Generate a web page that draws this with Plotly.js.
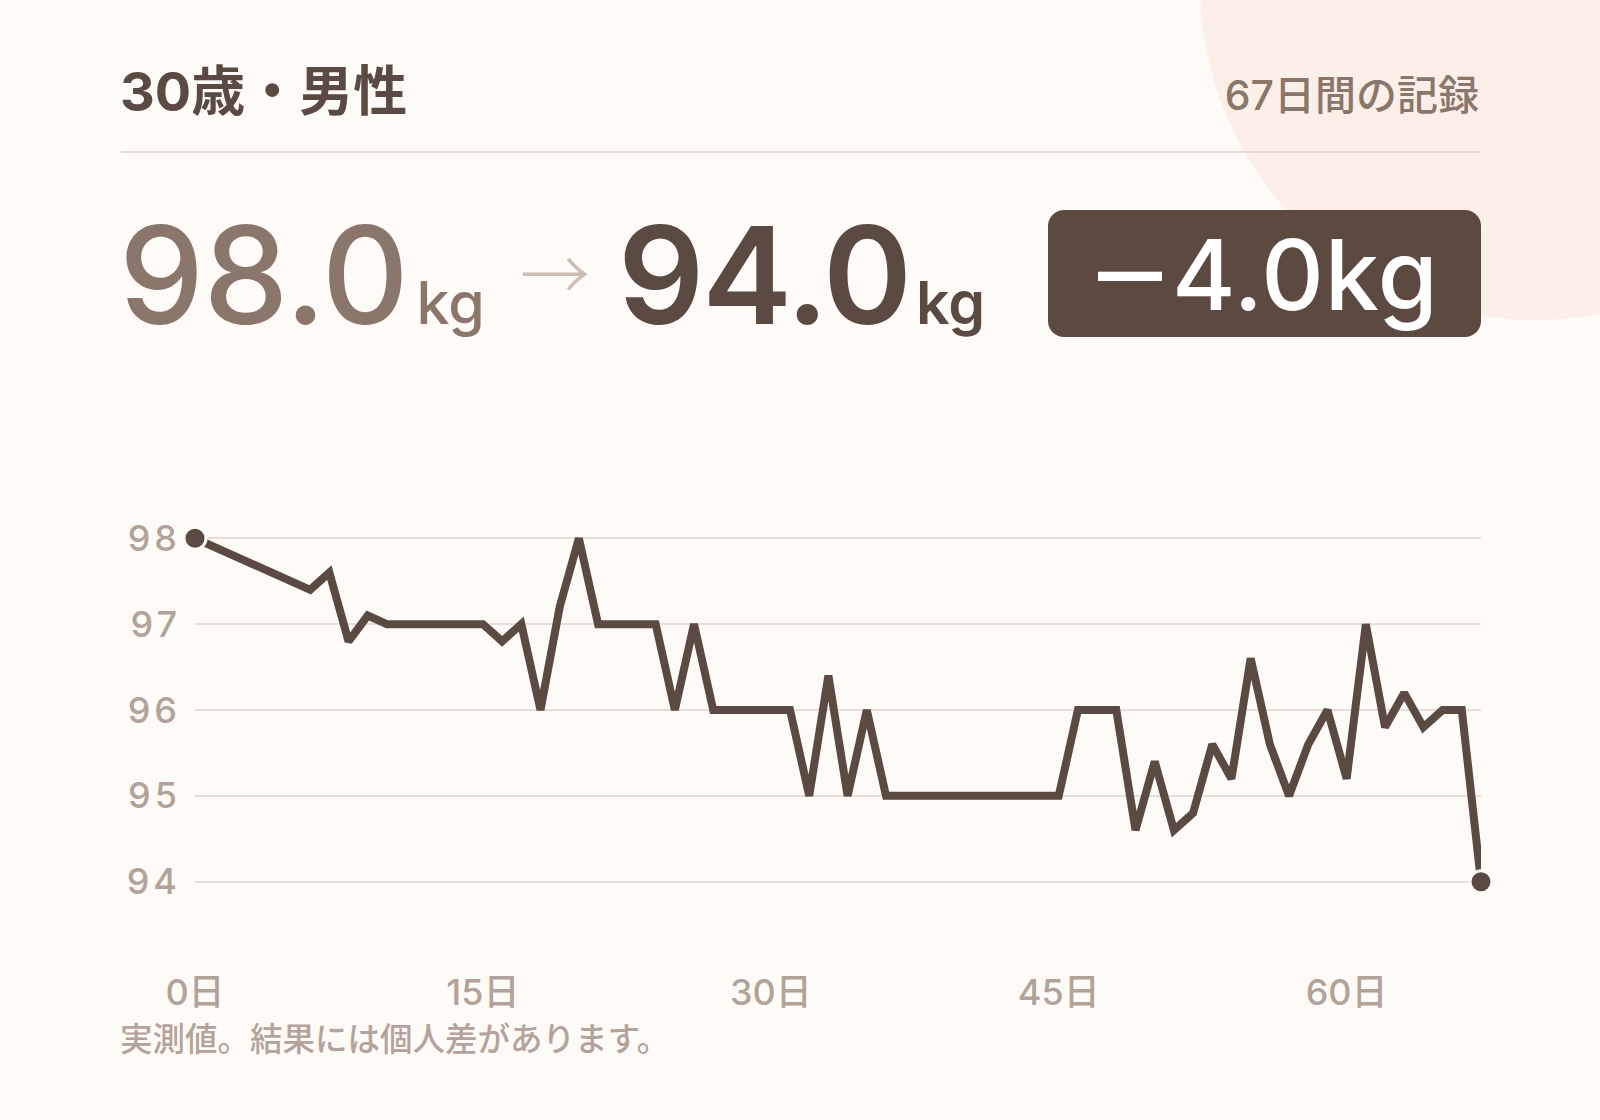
<!DOCTYPE html>
<html>
<head>
<meta charset="utf-8">
<script src="https://cdn.plot.ly/plotly-3.0.1.min.js"></script>
<style>
  html, body { margin: 0; padding: 0; background: #fefbf7; }
  #page {
    position: relative; width: 1600px; height: 1120px; overflow: hidden;
    background: #fefbf7; font-family: "Inter", "Noto Sans CJK JP", sans-serif;
  }
  #blob {
    position: absolute; left: 1200px; top: -350px; width: 670px; height: 670px;
    border-radius: 50%; background: #fcefe8;
  }
  .txt { position: absolute; line-height: 1; white-space: nowrap; }
  #who { left: 120px; top: 65px; font-size: 54px; font-weight: 700; color: #5a4a42; }
  #span { right: 121px; top: 75px; font-size: 41px; font-weight: 500; color: #8b766c; }
  #rule { position: absolute; left: 121px; top: 151px; width: 1359px; height: 2px; background: #e6dad2; }
  #before { left: 119px; top: 208px; font-size: 135px; font-weight: 500; color: #8b766c; letter-spacing: -0.5px; }
  #after { left: 618px; top: 208px; font-size: 135px; font-weight: 600; color: #5a4a42; letter-spacing: -2px; }
  .unit { font-size: 59px; letter-spacing: 0; }
  #before .unit { margin-left: 8px; }
  #after .unit { margin-left: 6px; }
  #arrow { left: 520px; top: 236px; font-size: 70px; font-weight: 300; color: #cdbdb3; font-family: "Noto Sans CJK JP", sans-serif; }
  #badge {
    position: absolute; left: 1048px; top: 210px; width: 433px; height: 127px;
    border-radius: 16px; background: #5c4a41;
  }
  #diff { left: 1085px; top: 226px; font-size: 97px; font-weight: 500; color: #ffffff; letter-spacing: 1px; }
  #diff .minus { font-family: "Noto Sans CJK JP", sans-serif; font-size: 90px; font-weight: 700; letter-spacing: 0; margin-right: -3px; }
  #note { left: 120px; top: 1021px; font-size: 32.5px; font-weight: 500; color: #b3a39a; font-family: "Noto Sans CJK JP", sans-serif; }
  #chart { position: absolute; left: 0; top: 0; width: 1600px; height: 1120px; }
  #chart .ytick text { letter-spacing: 4px; }
</style>
</head>
<body>
<div id="page">
  <div id="blob"></div>
  <div class="txt" id="who">30歳・男性</div>
  <div class="txt" id="span">67日間の記録</div>
  <div id="rule"></div>
  <div class="txt" id="before">98.0<span class="unit">kg</span></div>
  <div class="txt" id="arrow">→</div>
  <div class="txt" id="after">94.0<span class="unit">kg</span></div>
  <div id="badge"></div>
  <div class="txt" id="diff"><span class="minus">－</span>4.0kg</div>
  <div id="chart"></div>
  <div class="txt" id="note">実測値。結果には個人差があります。</div>
</div>
<script>
// measured weights (kg) by day
var days = [0, 6, 7, 8, 9, 10, 11, 12, 13, 14, 15, 16, 17, 18, 19, 20,
  21, 22, 23, 24, 25, 26, 27, 28, 29, 30, 31, 32, 33, 34, 35,
  36, 37, 38, 39, 40, 41, 42, 43, 44, 45, 46, 47, 48, 49, 50,
  51, 52, 53, 54, 55, 56, 57, 58, 59, 60, 61, 62, 63, 64, 65, 66, 67];
var weights = [98.0, 97.4, 97.6, 96.8, 97.1, 97.0, 97.0, 97.0, 97.0, 97.0, 97.0, 96.8, 97.0, 96.0, 97.2, 98.0,
  97.0, 97.0, 97.0, 97.0, 96.0, 97.0, 96.0, 96.0, 96.0, 96.0, 96.0, 95.0, 96.4, 95.0, 96.0,
  95.0, 95.0, 95.0, 95.0, 95.0, 95.0, 95.0, 95.0, 95.0, 95.0, 96.0, 96.0, 96.0, 94.6, 95.4,
  94.6, 94.8, 95.6, 95.2, 96.6, 95.6, 95.0, 95.6, 96.0, 95.2, 97.0, 95.8, 96.2, 95.8, 96.0, 96.0, 94.0];

var xTicks = [0, 15, 30, 45, 60];
var xLabels = ["0日", "15日", "30日", "45日", "60日"];
var yTicks = [94, 95, 96, 97, 98];

var INK = "#5a4a42";
var LABEL = "#b2a39a";

var last = days.length - 1;

var line = {
    x: days,
    y: weights,
    mode: "lines",
    type: "scatter",
    line: { color: INK, width: 8, shape: "linear" },
    hoverinfo: "skip",
    cliponaxis: false
};

// start / end dots
var ends = {
    x: [days[0], days[last]],
    y: [weights[0], weights[last]],
    mode: "markers",
    type: "scatter",
    marker: { color: INK, size: 22, line: { color: "#fefbf7", width: 3 } },
    hoverinfo: "skip",
    cliponaxis: false
};

var layout = {
    width: 1600,
    height: 1120,
    paper_bgcolor: "rgba(0,0,0,0)",
    plot_bgcolor: "rgba(0,0,0,0)",
    showlegend: false,
    margin: { l: 195, r: 119, t: 537, b: 237, pad: 0 },
    font: { family: "Inter, Noto Sans CJK JP, sans-serif", color: LABEL },
    xaxis: {
        range: [0, 67],
        tickvals: xTicks,
        ticktext: xLabels,
        showgrid: false,
        zeroline: false,
        showline: false,
        ticks: "",
        ticklabelstandoff: 85,
        tickfont: { size: 36, color: LABEL, weight: 500 }
    },
    yaxis: {
        range: [93.985, 98.015],
        tickvals: yTicks,
        showgrid: true,
        gridcolor: "#e8ded7",
        gridwidth: 2,
        zeroline: false,
        showline: false,
        ticks: "",
        ticklabelstandoff: 13,
        tickfont: { size: 36, color: LABEL, weight: 500 }
    }
};

Plotly.newPlot("chart", [line, ends], layout, { staticPlot: true, displayModeBar: false });
</script>
</body>
</html>
